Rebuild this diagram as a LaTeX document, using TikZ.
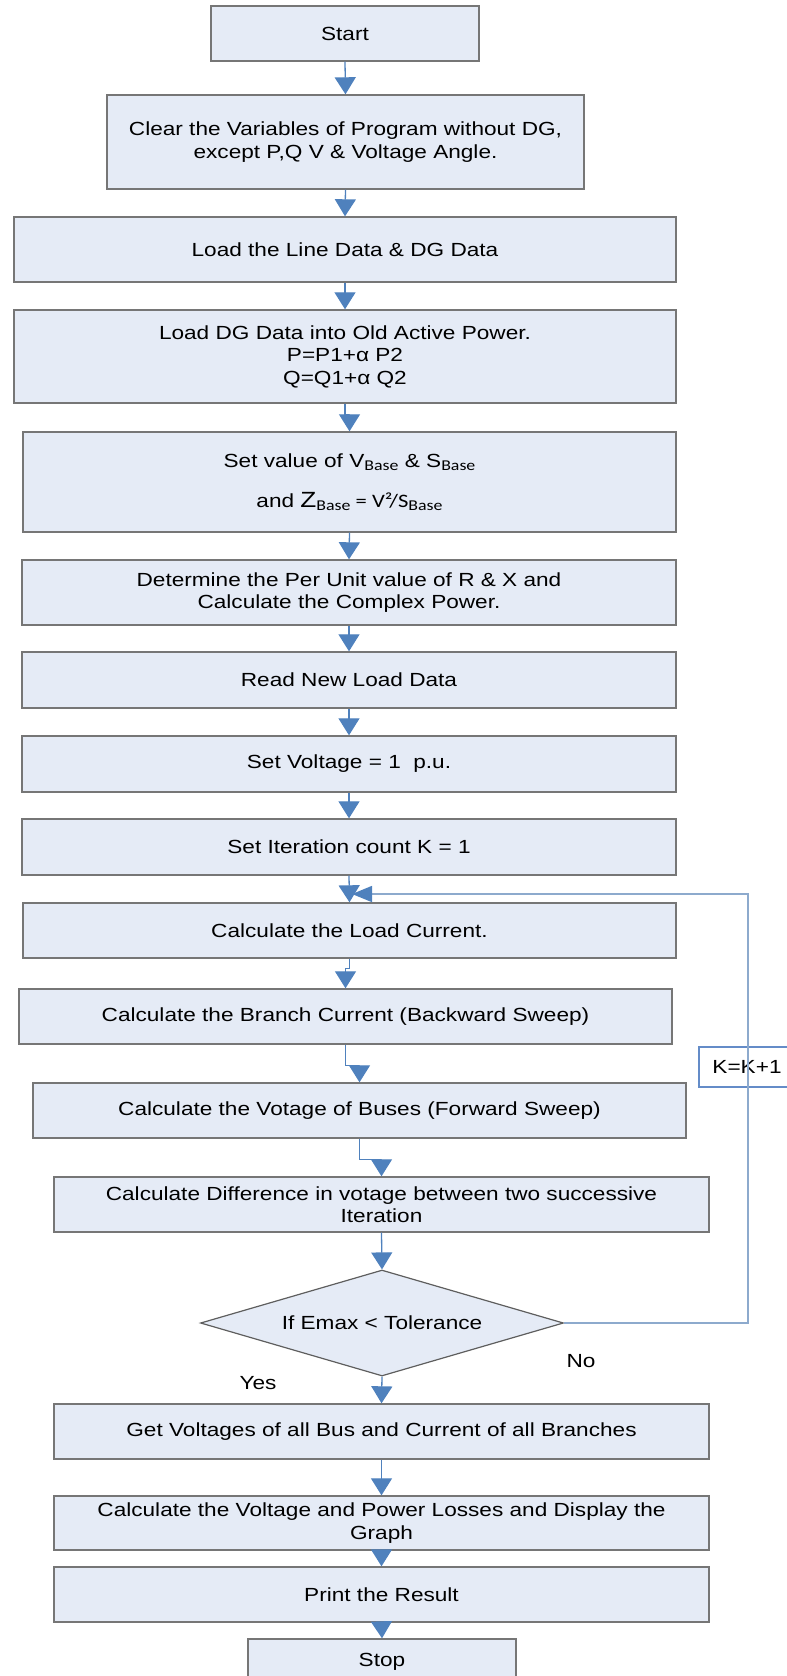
\documentclass[tikz,border=0pt]{standalone}
\usepackage{fontspec}
\setmainfont{Liberation Sans}[FakeStretch=1.19]
\newfontfamily\calib{Carlito}[FakeStretch=1.19]
\usepackage{xcolor}
\usetikzlibrary{arrows.meta,shapes.geometric}
\definecolor{boxfill}{RGB}{229,235,246}
\definecolor{boxline}{RGB}{118,118,118}
\definecolor{flowblue}{RGB}{79,129,189}
\definecolor{loopblue}{RGB}{141,170,205}
\definecolor{kblue}{RGB}{100,140,200}
\newcommand{\bsub}[1]{\raisebox{-3pt}{\calib\fontsize{15}{15}\selectfont #1}}

\begin{document}
\begin{tikzpicture}[x=1pt,y=-1pt,
			procbox/.style={
				draw=boxline,
				fill=boxfill,
				line width=1.4pt,
				minimum width=654pt,
				minimum height=55pt,
				inner sep=0pt,
				align=center,
				font=\fontsize{19}{22.5}\selectfont
			},
			decide/.style={
				diamond,
				draw=boxline!80!black,
				fill=boxfill,
				line width=1.2pt,
				minimum width=363pt,
				minimum height=106pt,
				aspect=3.4,
				inner sep=0pt,
				font=\fontsize{19}{22.5}\selectfont
			},
			kbox/.style={draw=kblue,fill=white,line width=1.5pt,minimum width=96pt,minimum height=40pt,font=\fontsize{19}{22.5}\selectfont},
			lbl/.style={font=\fontsize{19}{22.5}\selectfont},
			arrow/.style={-{Triangle[length=17pt,width=21pt]},flowblue,line width=1.3pt},
			loopline/.style={-{Triangle[length=20pt,width=16pt,color=flowblue]},draw=loopblue,line width=1.5pt}
			]
			
			\useasboundingbox (0,0) rectangle (787,1676);
			
			\node[procbox,minimum width=268pt] (start) at (345,33.5) {Start};
			
			\node[procbox,minimum width=477pt,minimum height=94pt] (clear) at (345.5,142)
			{Clear the Variables of Program without DG,\\ except P,Q V \& Voltage Angle.};
			
			\node[procbox,minimum width=662pt,minimum height=65pt] (lineData) at (345,249.5)
			{Load the Line Data \& DG Data};
			
			\node[procbox,minimum width=662pt,minimum height=93pt] (dgData) at (345,356.5)
			{Load DG Data into Old Active Power.\\ P=P1+α P2\\ Q=Q1+α Q2};
			
			\node[procbox,minimum width=653pt,minimum height=100pt] (baseVal) at (349.5,482)
			{Set value of V\bsub{Base} \& S\bsub{Base}\\[17pt]
				and {\fontsize{22}{22}\selectfont Z}\bsub{Base}{\calib\ = V²/S}\bsub{Base}};
			
			\node[procbox,minimum height=65pt] (perUnit) at (349,592.5)
			{Determine the Per Unit value of R \& X and\\ Calculate the Complex Power.};
			
			\node[procbox,minimum height=56pt] (readLoad) at (349,680) {Read New Load Data};
			
			\node[procbox,minimum height=56pt] (setVolt) at (349,764) {Set Voltage = 1\ \ p.u.};
			
			\node[procbox,minimum height=56pt] (setIter) at (349,847) {Set Iteration count K = 1};
			
			\node[procbox,minimum width=653pt] (loadCur) at (349.5,930.5) {Calculate the Load Current.};
			
			\node[procbox,minimum width=653pt] (branchCur) at (345.5,1016.5)
			{Calculate the Branch Current (Backward Sweep)};
			
			\node[procbox,minimum width=653pt] (busVolt) at (359.5,1110.5)
			{Calculate the Votage of Buses (Forward Sweep)};
			
			\node[procbox,minimum width=655pt] (diffV) at (381.5,1204.5)
			{Calculate Difference in votage between two successive\\ Iteration};
			
			\node[decide] (check) at (382,1323) {If Emax < Tolerance};
			
			\node[procbox,minimum width=655pt] (getV) at (381.5,1431.5)
			{Get Voltages of all Bus and Current of all Branches};
			
			\node[procbox,minimum width=655pt,minimum height=54pt] (losses) at (381.5,1523)
			{Calculate the Voltage and Power Losses and Display the\\ Graph};
			
			\node[procbox,minimum width=655pt] (result) at (381.5,1594.5) {Print the Result};
			
			\node[procbox,minimum width=268pt,minimum height=45pt] (stop) at (382,1661.5) {Stop};
			
			\node[kbox] (kInc) at (747,1067) {K=K+1};
			
			\node[lbl] (yes) at (258,1383) {Yes};
			\node[lbl] (no) at (581,1361) {No};
			
			\draw[arrow] (start.south) -- (clear.north);
			\draw[arrow] (clear.south) -- (lineData.north);
			\draw[arrow] (lineData.south) -- (dgData.north);
			\draw[arrow] (dgData.south) -- ++(0,11) -| (baseVal.north);
			\draw[arrow] (baseVal.south) -- (perUnit.north);
			\draw[arrow] (perUnit.south) -- (readLoad.north);
			\draw[arrow] (readLoad.south) -- (setVolt.north);
			\draw[arrow] (setVolt.south) -- (setIter.north);
			\draw[arrow] (setIter.south) -- (loadCur.north);
			\draw[arrow] (loadCur.south) -- ++(0,10) -| (branchCur.north);
			\draw[arrow] (branchCur.south) -- ++(0,21) -| (busVolt.north);
			\draw[arrow] (busVolt.south) -- ++(0,21) -| (diffV.north);
			\draw[arrow] (diffV.south) -- (check.north);
			\draw[arrow] (check.south) -- (getV.north);
			\draw[arrow] (getV.south) -- (losses.north);
			\draw[arrow] (losses.south) -- (result.north);
			\draw[arrow] (result.south) -- (stop.north);
			
			\coordinate (loopTop) at (748,894);
			\coordinate (loopIn) at (352,894);
			\draw[loopline] (check.east) -| (loopTop) -- (loopIn);
			
		\end{tikzpicture}
\end{document}
